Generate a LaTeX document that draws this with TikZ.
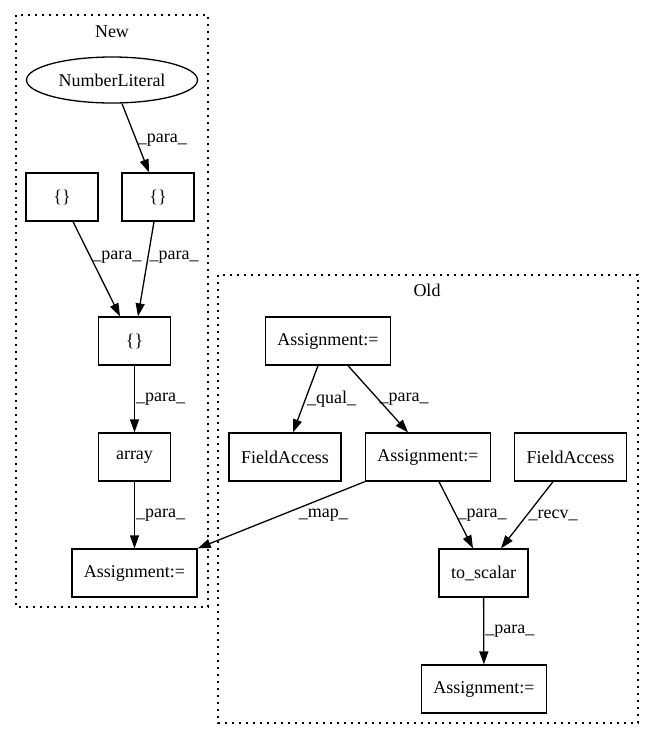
\documentclass[tikz,border=0pt]{standalone}
\usepackage{fontspec}
\setmainfont{Liberation Serif}
\usetikzlibrary{arrows.meta,shapes.geometric}

\begin{document}
\begin{tikzpicture}[x=1pt,y=-1pt,
  font=\fontsize{18}{22}\selectfont,
  box/.style={draw,line width=1.3pt,minimum width=72pt,minimum height=48pt,inner xsep=12pt},
  oval/.style={draw,ellipse,line width=1.3pt,minimum width=171pt,minimum height=46pt,inner sep=0pt},
  flow/.style={line width=1.3pt,-{Triangle[length=13pt,width=9pt]}},
  lbl/.style={anchor=west,inner sep=1pt},
  cluster/.style={line width=1.3pt,dash pattern=on 2pt off 5pt}]
\useasboundingbox (0,0) rectangle (653,740);
%\draw[step=50pt,gray,very thin] (0,0) grid (653,740);
\draw[cluster] (16,15) rectangle (208,607);
\draw[cluster] (218,275) rectangle (638,723);
\node (newlbl) at (112,32) {New};
\node (oldlbl) at (427,290) {Old};

% New
\node[oval] (nlit) at (112,80) {NumberLiteral};
\node[box] (setl) at (62,197) {\{\}};
\node[box] (setr) at (158,197) {\{\}};
\node[box] (setm) at (134.5,341) {\{\}};
\node[box] (arr) at (134.5,457) {array};
\node[box] (asnew) at (134.5,573) {Assignment:=};

% Old
\node[box] (aso) at (328,341) {Assignment:=};
\node[box] (fal) at (285,457) {FieldAccess};
\node[box] (asm) at (428,457) {Assignment:=};
\node[box] (far) at (570.5,457) {FieldAccess};
\node[box] (tosc) at (483.5,573) {to\_scalar};
\node[box] (asb) at (484,689) {Assignment:=};

\draw[flow] ([xshift=10pt]nlit.south) -- node[lbl,pos=0.53] {\_para\_} ([xshift=-9pt]setr.north);
\draw[flow] ([xshift=11pt]setl.south) -- node[lbl,pos=0.375] {\_para\_} ([xshift=-14.5pt]setm.north);
\draw[flow] ([xshift=-4pt]setr.south) -- node[lbl,pos=0.375] {\_para\_} ([xshift=3.5pt]setm.north);
\draw[flow] (setm) -- node[lbl] {\_para\_} (arr);
\draw[flow] (arr) -- node[lbl] {\_para\_} (asnew);
\draw[flow] ([xshift=-10pt]aso.south) -- node[lbl] {\_qual\_} ([xshift=8pt]fal.north);
\draw[flow] ([xshift=20pt]aso.south) -- node[lbl] {\_para\_} ([xshift=-20pt]asm.north);
\draw[flow] (asm.south west) -- node[lbl,xshift=16pt] {\_map\_} (asnew.north east);
\draw[flow] ([xshift=11pt]asm.south) -- node[lbl] {\_para\_} ([xshift=-10.5pt]tosc.north);
\draw[flow] ([xshift=-17.5pt]far.south) -- node[lbl] {\_recv\_} ([xshift=17.5pt]tosc.north);
\draw[flow] (tosc) -- node[lbl] {\_para\_} (asb);
\end{tikzpicture}
\end{document}
